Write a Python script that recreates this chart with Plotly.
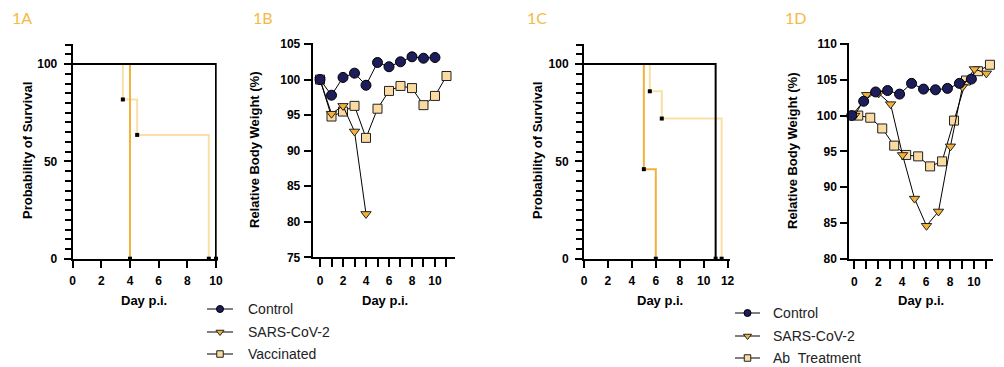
import plotly.graph_objects as go

W, H = 1004, 367

# ---------------- data ----------------
# 1A survival (step curves: time, % surviving)
a_ctrl_t = [0, 10];              a_ctrl_s = [100, 0]
a_sars_t = [0, 4];               a_sars_s = [100, 0]
a_vacc_t = [0, 3.5, 4.5, 9.5];   a_vacc_s = [100, 81.8, 63.6, 0]

# 1B body weight
b_days = list(range(12))
b_ctrl = [100, 97.8, 100.3, 100.9, 99.2, 102.4, 101.8, 102.5, 103.2, 103.0, 103.1]
b_sars = [100, 95.2, 96.3, 92.7, 81.1]
b_vacc = [100, 94.8, 95.5, 96.3, 91.8, 95.9, 98.4, 99.1, 98.8, 96.4, 97.7, 100.5]

# 1C survival
c_ctrl_t = [0, 11];               c_ctrl_s = [100, 0]
c_sars_t = [0, 5, 6];             c_sars_s = [100, 46, 0]
c_ab_t = [0, 5.5, 6.5, 11.5];     c_ab_s = [100, 86, 72, 0]

# 1D body weight
d_days = list(range(12))
d_ctrl = [100, 102.0, 103.3, 103.5, 103.0, 104.5, 103.7, 103.6, 103.8, 104.5, 105.1]
d_sars = [100, 102.9, 103.1, 101.6, 94.5, 88.4, 84.6, 86.6, 95.7, 104.0, 106.5, 105.9]
d_ab = [100, 99.7, 98.2, 95.8, 94.5, 94.3, 92.9, 93.6, 99.3, 104.9, 106.2, 107.1]

panel_labels = ["1A", "1B", "1C", "1D"]
legend1_names = ["Control", "SARS-CoV-2", "Vaccinated"]
legend2_names = ["Control", "SARS-CoV-2", "Ab  Treatment"]

# ---------------- style ----------------
NAVY = "#1d1d5c"
ORANGE = "#f4b13a"
LIGHT = "#fadfa6"
SQFILL = "#fbdba2"
LABEL = "#f6b944"
FONT = "Liberation Sans, Arial, sans-serif"

# stagger of groups in 1D (display offsets)
d_off = {"ctrl": -0.22, "sars": 0.03, "ab": 0.33}

fig = go.Figure()


def px_x(p):
    return p / W


def px_y(p):
    return 1 - p / H


def surv(t, s, color, ax):
    fig.add_trace(go.Scatter(x=t, y=s, mode="lines", line=dict(color=color, width=2, shape="hv"),
                             xaxis="x" + ax, yaxis="y" + ax, showlegend=False, hoverinfo="skip",
                             cliponaxis=False))


def censor(t, s, ax):
    fig.add_trace(go.Scatter(x=t[1:], y=s[1:], mode="markers",
                             marker=dict(symbol="square", size=4, color="black", line=dict(width=0)),
                             xaxis="x" + ax, yaxis="y" + ax, showlegend=False, hoverinfo="skip",
                             cliponaxis=False))


# 1A
surv(a_vacc_t, a_vacc_s, LIGHT, "")
surv(a_sars_t, a_sars_s, ORANGE, "")
surv(a_ctrl_t, a_ctrl_s, "black", "")
for t, s in [(a_vacc_t, a_vacc_s), (a_sars_t, a_sars_s), (a_ctrl_t, a_ctrl_s)]:
    censor(t, s, "")

# 1C
surv(c_ab_t, c_ab_s, LIGHT, "3")
surv(c_sars_t, c_sars_s, ORANGE, "3")
surv(c_ctrl_t, c_ctrl_s, "black", "3")
for t, s in [(c_ab_t, c_ab_s), (c_sars_t, c_sars_s), (c_ctrl_t, c_ctrl_s)]:
    censor(t, s, "3")

styles = {
    "ctrl": dict(symbol="circle", size=10, color=NAVY, line=dict(color="black", width=1)),
    "sars": dict(symbol="triangle-down", size=9, color=ORANGE, line=dict(color="#222", width=1)),
    "sq": dict(symbol="square", size=9, color=SQFILL, line=dict(color="#222", width=1)),
}


def weight(x, y, st, ax):
    fig.add_trace(go.Scatter(x=x, y=y, mode="lines+markers", line=dict(color="black", width=1),
                             marker=styles[st], xaxis="x" + ax, yaxis="y" + ax, showlegend=False,
                             hoverinfo="skip", cliponaxis=False))


# 1B
weight(b_days[:len(b_vacc)], b_vacc, "sq", "2")
weight(b_days[:len(b_sars)], b_sars, "sars", "2")
weight(b_days[:len(b_ctrl)], b_ctrl, "ctrl", "2")

# 1D
weight([d + d_off["ab"] for d in d_days[:len(d_ab)]], d_ab, "sq", "4")
weight([d + d_off["sars"] for d in d_days[:len(d_sars)]], d_sars, "sars", "4")
weight([d + d_off["ctrl"] for d in d_days[:len(d_ctrl)]], d_ctrl, "ctrl", "4")

# ---------------- manual legends (on a pixel-space overlay axis) ----------------
legend_specs = [
    # names, sample line x0, x1, text x, row y positions
    (legend1_names, 207, 233, 246, [309, 332, 354]),
    (legend2_names, 735, 760, 771, [313, 336, 358]),
]
ann = []
for names, lx0, lx1, tx, rows in legend_specs:
    for name, st, ry in zip(names, ["ctrl", "sars", "sq"], rows):
        fig.add_trace(go.Scatter(x=[lx0, lx1], y=[ry, ry], mode="lines", line=dict(color="black", width=1),
                                 xaxis="x5", yaxis="y5", showlegend=False, hoverinfo="skip"))
        m = dict(styles[st])
        m["size"] = 7 if st != "sq" else 6.5
        fig.add_trace(go.Scatter(x=[(lx0 + lx1) / 2], y=[ry], mode="markers", marker=m,
                                 xaxis="x5", yaxis="y5", showlegend=False, hoverinfo="skip"))
        ann.append(dict(text=name, x=tx, y=ry, xref="x5", yref="y5", xanchor="left", yanchor="middle",
                        showarrow=False, font=dict(family=FONT, size=14, color="#222")))

tickfont = dict(family=FONT, size=12, color="black", weight="bold")
base = dict(showline=True, linecolor="black", linewidth=2, ticks="outside", tickcolor="black",
            tickwidth=2, showgrid=False, zeroline=False, tickfont=tickfont, fixedrange=True,
            automargin=False)

surv_y = dict(base, range=[0, 110.5], tickvals=[0, 50, 100], ticklen=7, ticklabelstandoff=4,
              minor=dict(dtick=5, tick0=0, ticks="outside", ticklen=6, tickwidth=2, tickcolor="black"))

fig.update_layout(
    template="none",
    width=W, height=H, margin=dict(l=0, r=0, t=0, b=0, pad=0, autoexpand=False),
    paper_bgcolor="white", plot_bgcolor="rgba(0,0,0,0)",
    showlegend=False,
    xaxis=dict(base, domain=[px_x(72.7), px_x(216.7)], range=[0, 10.05], tickvals=[0, 2, 4, 6, 8, 10],
               ticklen=7, anchor="y", ticklabelstandoff=3),
    yaxis=dict(surv_y, domain=[px_y(258.7), px_y(43.6)], anchor="x"),
    xaxis2=dict(base, domain=[px_x(312.7), px_x(455)], range=[-0.635, 11.74], tickvals=b_days,
                ticktext=[str(d) if d % 2 == 0 and d <= 10 else "" for d in b_days],
                ticklen=8, anchor="y2", ticklabelstandoff=3),
    yaxis2=dict(base, domain=[px_y(257.3), px_y(43.3)], range=[75, 105.1], tickvals=[75, 80, 85, 90, 95, 100, 105],
                ticklen=7, anchor="x2", ticklabelstandoff=1),
    xaxis3=dict(base, domain=[px_x(584), px_x(730)], range=[0, 12.2], tickvals=[0, 2, 4, 6, 8, 10, 12],
                ticklen=7, anchor="y3", ticklabelstandoff=3),
    yaxis3=dict(surv_y, domain=[px_y(258.7), px_y(43.6)], anchor="x3"),
    xaxis4=dict(base, domain=[px_x(849.3), px_x(992.7)], range=[-0.42, 11.56], tickvals=d_days,
                ticktext=[str(d) if d % 2 == 0 and d <= 10 else "" for d in d_days],
                ticklen=8, anchor="y4", ticklabelstandoff=3),
    yaxis4=dict(base, domain=[px_y(258.7), px_y(43.3)], range=[80, 110.1], tickvals=[80, 85, 90, 95, 100, 105, 110],
                ticklen=7, anchor="x4", ticklabelstandoff=1),
    xaxis5=dict(domain=[0, 1], range=[0, W], visible=False, fixedrange=True, anchor="y5", automargin=False),
    yaxis5=dict(domain=[0, 1], range=[H, 0], visible=False, fixedrange=True, anchor="x5", automargin=False),
)

for lab, x in zip(panel_labels, [10, 251, 525, 783]):
    ann.append(dict(text=lab, x=px_x(x), y=px_y(17), xref="paper", yref="paper", xanchor="left",
                    yanchor="middle", showarrow=False, font=dict(family="Lato, Noto Sans", size=16, color=LABEL)))

titlefont = dict(family=FONT, size=13, color="black", weight="bold")
for text, x, y in [("Probability of Survival", 27, 151), ("Relative Body Weight (%)", 254, 150),
                   ("Probability of Survival", 537, 151), ("Relative Body Weight (%)", 792, 151)]:
    ann.append(dict(text=text, x=px_x(x), y=px_y(y), xref="paper", yref="paper", textangle=-90,
                    xanchor="center", yanchor="middle", showarrow=False, font=titlefont))
for x in [144, 385, 660, 921]:
    ann.append(dict(text="Day p.i.", x=px_x(x), y=px_y(300), xref="paper", yref="paper",
                    xanchor="center", yanchor="middle", showarrow=False, font=titlefont))
fig.update_layout(annotations=ann)

fig.write_html("out.html", config={"displayModeBar": False, "staticPlot": True},
               post_script="document.body.style.margin='0';document.body.style.overflow='hidden';")
